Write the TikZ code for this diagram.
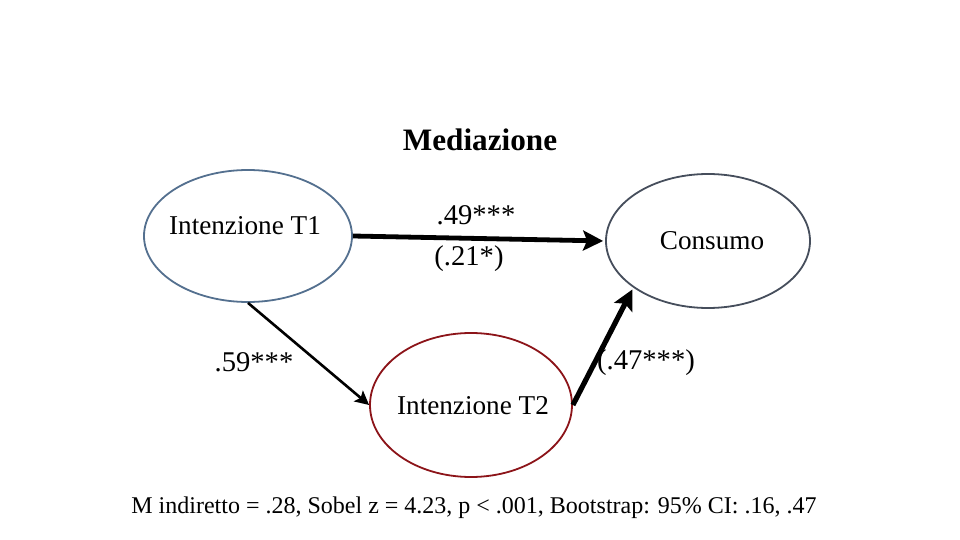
\documentclass[tikz,border=0pt]{standalone}
\usepackage{fontspec}
\setmainfont{Liberation Serif}
\usepackage{tikz}
\usetikzlibrary{positioning, shapes.geometric, arrows.meta}

\definecolor{blueline}{RGB}{84,112,143}
\definecolor{greyline}{RGB}{70,78,92}
\definecolor{redline}{RGB}{140,20,25}

\begin{document}
\begin{tikzpicture}[x=0.5pt, y=-0.5pt, >=Stealth,
    latent/.style={ellipse, draw, line width=0.9pt, inner sep=0pt, fill=white,
      font=\fontsize{13.5}{16}\selectfont},
    coef/.style={font=\fontsize{14.3}{16}\selectfont}]
    \useasboundingbox (0,0) rectangle (960,540);
    % ---------------- title
    \node[font=\fontsize{15.6}{18}\selectfont\bfseries] (title) at (480,140) {Mediazione};
    % ---------------- variables
    \node[latent, draw=blueline, minimum width=104pt, minimum height=66pt] (t1) at (248,236) {};
    \node at (245,226) [font=\fontsize{13.6}{16}\selectfont] (t1lab) {Intenzione T1};
    \node[latent, draw=greyline, minimum width=102pt, minimum height=67pt] (consumo) at (708,241) {};
    \node at (712,241) [font=\fontsize{13.6}{16}\selectfont] (conslab) {Consumo};
    \node[latent, draw=redline, minimum width=101pt, minimum height=72pt] (t2) at (471,405) {};
    \node at (473,406) [font=\fontsize{13.6}{16}\selectfont] (t2lab) {Intenzione T2};
    % ---------------- paths
    \draw[-{Stealth[length=10pt, width=10pt, inset=2pt]}, line width=2.4pt, shorten >=1pt] (t1.east) -- (consumo.west);
    \draw[-{Stealth[length=7pt, width=7pt, inset=1.5pt]}, line width=1.3pt] (t1.south) -- (t2.west);
    \draw[-{Stealth[length=10pt, width=10pt, inset=2pt]}, line width=2.6pt, shorten >=1pt] (t2.east) -- (consumo.212);
    \node[coef] (a) at (476,215) {.49***};
    \node[coef] (c) at (469,259) {(.21*)};
    \node[coef] (b) at (254,362) {.59***};
    \node[coef] (d) at (646,363) {(.47***)};
    % ---------------- note
    \node[font=\fontsize{12}{14}\selectfont] (note) at (474,508)
      {M indiretto = .28, Sobel z = 4.23, p < .001, Bootstrap: 95\% CI: .16, .47};
\end{tikzpicture}
\end{document}
